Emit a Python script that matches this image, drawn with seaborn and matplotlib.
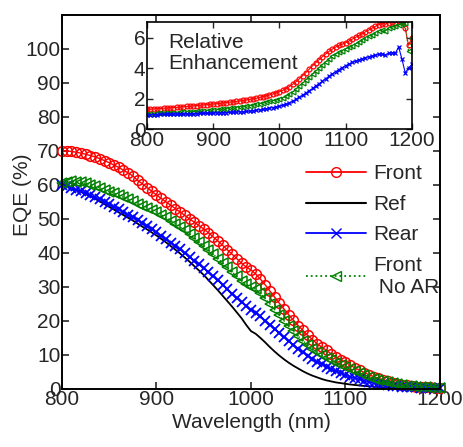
import numpy as np
import seaborn as sns
import matplotlib
matplotlib.use("Agg")
import matplotlib.pyplot as plt
from matplotlib.lines import Line2D

# wavelength grid (nm)
wl = np.arange(800, 1201, 5)

# EQE (%)
front = [70.0, 70.0, 69.8, 69.6, 69.3, 69.0, 68.6, 68.2, 67.7, 67.1,
         66.5, 65.8, 65.1, 64.3, 63.5, 62.6, 61.3, 60.3, 59.2, 58.1,
         57.0, 56.0, 55.0, 54.0, 53.0, 52.0, 51.0, 50.0, 49.0, 48.0,
         47.0, 45.9, 44.7, 43.5, 42.2, 40.9, 39.6, 38.3, 37.0, 35.8,
         35.0, 33.8, 32.3, 30.6, 28.8, 27.0, 25.2, 23.5, 21.8, 20.2,
         18.6, 17.2, 15.8, 14.5, 13.3, 12.3, 11.3, 10.3, 9.4, 8.6,
         7.8, 7.0, 6.2, 5.5, 4.8, 4.2, 3.6, 3.1, 2.6, 2.2,
         1.8, 1.5, 1.2, 1.0, 0.8, 0.7, 0.6, 0.5, 0.45, 0.4, 0.4]
ref = [60.0, 59.6, 59.1, 58.5, 57.9, 57.3, 56.6, 55.9, 55.1, 54.3,
       53.5, 52.7, 51.9, 51.1, 50.3, 49.5, 48.6, 47.7, 46.9, 46.0,
       45.1, 44.1, 43.1, 42.0, 40.9, 39.8, 38.6, 37.4, 36.1, 34.8,
       33.5, 32.0, 30.5, 29.0, 27.4, 25.8, 24.2, 22.5, 20.8, 18.8,
       17.0, 16.2, 15.0, 13.7, 12.3, 11.0, 9.8, 8.7, 7.7, 6.8,
       6.0, 5.2, 4.5, 3.9, 3.4, 2.9, 2.5, 2.2, 1.9, 1.7,
       1.5, 1.3, 1.15, 1.0, 0.85, 0.75, 0.65, 0.55, 0.48, 0.42,
       0.36, 0.3, 0.26, 0.22, 0.19, 0.16, 0.14, 0.12, 0.1, 0.09, 0.08]
rear = [60.0, 59.6, 59.1, 58.6, 58.1, 57.5, 56.9, 56.3, 55.7, 55.0,
        54.3, 53.6, 52.8, 52.0, 51.2, 50.4, 49.6, 48.7, 47.8, 46.9,
        46.0, 45.0, 44.0, 43.0, 42.0, 41.0, 39.9, 38.8, 37.7, 36.6,
        35.5, 34.3, 33.1, 31.9, 30.6, 29.3, 28.0, 26.8, 25.5, 24.3,
        23.3, 22.4, 21.3, 20.1, 18.9, 17.7, 16.4, 15.2, 14.0, 12.9,
        11.8, 10.8, 9.8, 8.9, 8.0, 7.2, 6.5, 5.8, 5.2, 4.6,
        4.1, 3.6, 3.2, 2.8, 2.4, 2.1, 1.8, 1.5, 1.3, 1.1,
        0.95, 0.8, 0.7, 0.6, 0.5, 0.45, 0.4, 0.35, 0.3, 0.3, 0.25]
front_noar = [60.5, 60.9, 61.0, 60.9, 60.7, 60.4, 60.0, 59.6, 59.1, 58.6,
              58.0, 57.5, 56.9, 56.3, 55.7, 55.1, 54.5, 53.9, 53.3, 52.7,
              52.0, 51.2, 50.4, 49.5, 48.6, 47.6, 46.6, 45.5, 44.4, 43.2,
              42.0, 40.8, 39.6, 38.3, 37.0, 35.7, 34.4, 33.1, 31.8, 30.7,
              30.0, 29.3, 28.1, 26.6, 25.0, 23.3, 21.6, 20.0, 18.4, 16.9,
              15.5, 14.2, 12.9, 11.7, 10.8, 10.0, 9.2, 8.4, 7.7, 7.0,
              6.4, 5.8, 5.2, 4.6, 4.0, 3.5, 3.0, 2.6, 2.2, 1.9,
              1.6, 1.3, 1.1, 0.9, 0.75, 0.6, 0.5, 0.45, 0.4, 0.35, 0.3]

# relative enhancement (inset)
enh_front = [1.30, 1.31, 1.33, 1.34, 1.35, 1.37, 1.38, 1.40, 1.42, 1.43,
             1.45, 1.47, 1.49, 1.51, 1.53, 1.55, 1.57, 1.59, 1.61, 1.63,
             1.65, 1.67, 1.69, 1.72, 1.74, 1.77, 1.79, 1.82, 1.85, 1.88,
             1.92, 1.95, 1.99, 2.03, 2.08, 2.13, 2.19, 2.25, 2.31, 2.38,
             2.46, 2.55, 2.66, 2.79, 2.94, 3.11, 3.30, 3.50, 3.71, 3.93,
             4.15, 4.36, 4.56, 4.75, 4.93, 5.10, 5.25, 5.38, 5.50, 5.58,
             5.66, 5.78, 5.90, 6.02, 6.14, 6.26, 6.38, 6.50, 6.62, 6.74,
             6.85, 6.92, 6.88, 6.98, 7.05, 6.95, 7.10, 7.00, 6.60, 5.50, 5.95]
enh_noar = [1.00, 1.01, 1.02, 1.03, 1.04, 1.05, 1.06, 1.07, 1.08, 1.09,
            1.10, 1.11, 1.12, 1.14, 1.15, 1.16, 1.18, 1.19, 1.21, 1.23,
            1.25, 1.27, 1.29, 1.31, 1.33, 1.36, 1.39, 1.42, 1.45, 1.48,
            1.50, 1.54, 1.58, 1.62, 1.67, 1.72, 1.77, 1.82, 1.87, 1.92,
            1.97, 2.05, 2.15, 2.28, 2.44, 2.62, 2.82, 3.02, 3.22, 3.42,
            3.62, 3.82, 4.02, 4.22, 4.42, 4.60, 4.77, 4.92, 5.05, 5.15,
            5.25, 5.36, 5.48, 5.60, 5.72, 5.84, 5.96, 6.08, 6.20, 6.32,
            6.44, 6.50, 6.45, 6.60, 6.70, 6.75, 6.82, 6.90, 6.95, 5.10, 6.00]
enh_rear = [0.95, 0.95, 0.96, 0.96, 0.97, 0.97, 0.98, 0.98, 0.99, 0.99,
            1.00, 1.00, 1.01, 1.01, 1.02, 1.02, 1.03, 1.03, 1.04, 1.04,
            1.05, 1.06, 1.07, 1.08, 1.09, 1.10, 1.11, 1.12, 1.13, 1.14,
            1.16, 1.18, 1.21, 1.24, 1.27, 1.30, 1.34, 1.38, 1.42, 1.46,
            1.51, 1.57, 1.64, 1.73, 1.83, 1.95, 2.08, 2.22, 2.37, 2.52,
            2.67, 2.83, 2.99, 3.15, 3.31, 3.47, 3.62, 3.77, 3.91, 4.04,
            4.16, 4.27, 4.37, 4.46, 4.54, 4.62, 4.69, 4.75, 4.80, 4.85,
            4.90, 4.93, 4.86, 4.97, 5.02, 4.96, 5.40, 4.60, 3.70, 4.00, 4.25]

RED, BLUE, GREEN = "#ff0000", "#0000ff", "#008000"
FS = 15

sns.set_style("ticks")
plt.rcParams["font.family"] = ["Liberation Sans", "DejaVu Sans"]
plt.rcParams["xtick.direction"] = "in"
plt.rcParams["ytick.direction"] = "in"

fig = plt.figure(figsize=(4.63, 4.47), dpi=100)
ax = fig.add_axes([0.134, 0.130, 0.816, 0.837])

sns.lineplot(x=wl, y=front, ax=ax, color=RED, marker="o", markersize=7,
             markerfacecolor="none", markeredgecolor=RED, markeredgewidth=1.1,
             linewidth=1.0, clip_on=False)
sns.lineplot(x=wl, y=ref, ax=ax, color="black", linewidth=1.3, clip_on=False)
sns.lineplot(x=wl, y=rear, ax=ax, color=BLUE, marker="x", markersize=7,
             markeredgecolor=BLUE, markeredgewidth=1.3, linewidth=1.0, clip_on=False)
sns.lineplot(x=wl, y=front_noar, ax=ax, color=GREEN, marker="<", markersize=7,
             markerfacecolor="none", markeredgecolor=GREEN, markeredgewidth=1.1,
             linewidth=1.0, linestyle=":", clip_on=False)

ax.set_xlim(800, 1200)
ax.set_ylim(0, 110)
ax.set_xticks(range(800, 1201, 100))
ax.set_yticks(range(0, 101, 10))
ax.tick_params(labelsize=FS, length=5, width=1.2, top=True, right=True, pad=1)
for s in ax.spines.values():
    s.set_linewidth(1.4)
    s.set_color("black")
ax.set_xlabel("Wavelength (nm)", fontsize=FS, labelpad=3)
ax.set_ylabel("EQE (%)", fontsize=FS)
ax.yaxis.set_label_coords(-0.08, 0.52)

handles = [
    Line2D([], [], color=RED, marker="o", markerfacecolor="none", markersize=7, linewidth=1.3),
    Line2D([], [], color="black", linewidth=1.5),
    Line2D([], [], color=BLUE, marker="x", markersize=7, linewidth=1.3),
    Line2D([], [], color=GREEN, marker="<", markerfacecolor="none", markersize=7,
           linewidth=1.3, linestyle=":"),
]
ax.legend(handles, ["Front", "Ref", "Rear", "Front\n No AR"], loc="upper left",
          bbox_to_anchor=(0.617, 0.628), frameon=False, fontsize=FS,
          handlelength=2.9, handletextpad=0.35, labelspacing=0.55, borderpad=0)

# inset
ins = fig.add_axes([0.3175, 0.711, 0.572, 0.239])
sns.lineplot(x=wl, y=enh_front, ax=ins, color=RED, marker="o", markersize=3.5,
             markerfacecolor="none", markeredgecolor=RED, markeredgewidth=0.9, linewidth=0.8)
sns.lineplot(x=wl, y=enh_noar, ax=ins, color=GREEN, marker="<", markersize=3.5,
             markerfacecolor="none", markeredgecolor=GREEN, markeredgewidth=0.9,
             linewidth=0.8, linestyle=":")
sns.lineplot(x=wl, y=enh_rear, ax=ins, color=BLUE, marker="x", markersize=3.5,
             markeredgecolor=BLUE, markeredgewidth=0.9, linewidth=0.8)
ins.set_xlim(800, 1200)
ins.set_ylim(0, 7)
ins.set_xticks(range(800, 1201, 100))
ins.set_yticks([0, 2, 4, 6])
ins.tick_params(labelsize=FS, length=4, width=1.0, top=True, right=True, pad=1)
for s in ins.spines.values():
    s.set_linewidth(1.2)
    s.set_color("black")
ins.set_xlabel("")
ins.set_ylabel("")
ins.text(0.08, 0.9, "Relative\nEnhancement", transform=ins.transAxes,
         fontsize=FS, va="top", ha="left", linespacing=1.15)

fig.savefig("out.png", dpi=100)
